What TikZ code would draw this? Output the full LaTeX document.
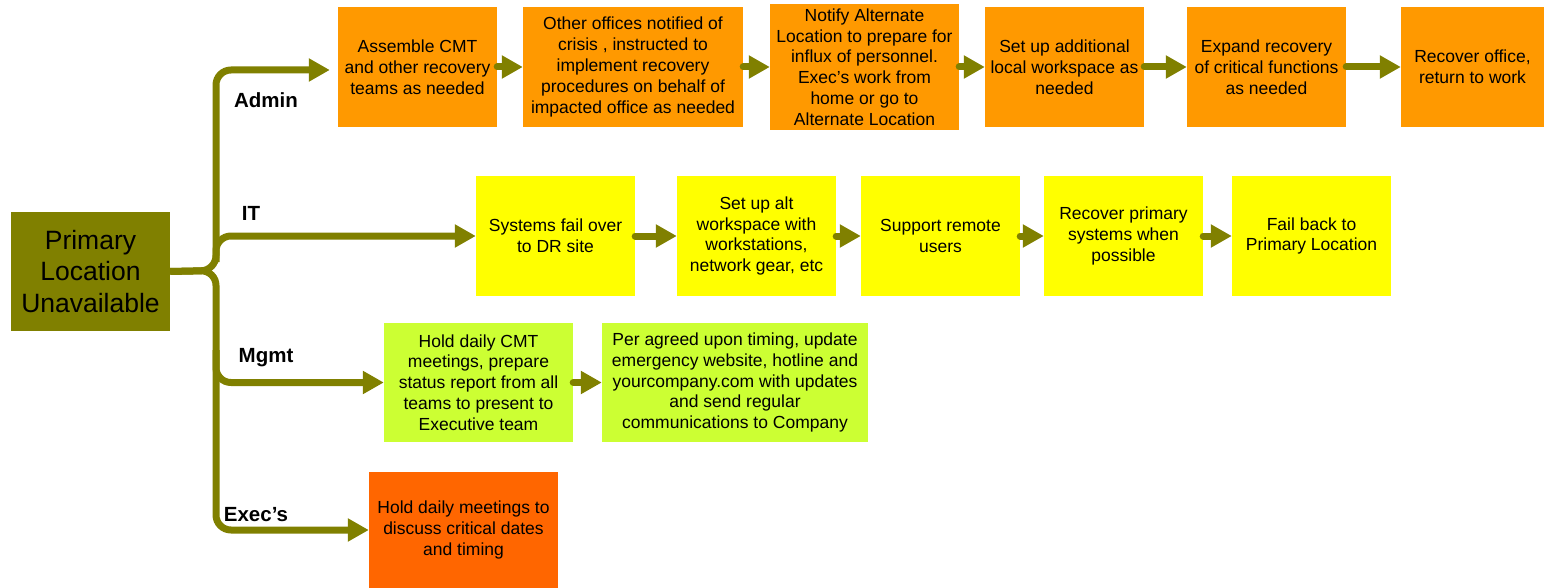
\documentclass[tikz,border=0pt]{standalone}
\usepackage{fontspec}
\setmainfont{Liberation Sans}
\usetikzlibrary{arrows.meta}
\definecolor{olivec}{HTML}{808000}
\definecolor{orangec}{HTML}{FF9900}
\definecolor{yellowc}{HTML}{FFFF00}
\definecolor{limec}{HTML}{CCFF33}
\definecolor{redorange}{HTML}{FF6600}
\begin{document}
\begin{tikzpicture}[x=1pt,y=-1pt,
  box/.style={inner sep=0pt, align=center, font=\fontsize{17.5}{20.8}\selectfont},
  adminbox/.style={box, fill=orangec},
  itbox/.style={box, fill=yellowc, minimum width=159pt, minimum height=120pt},
  mgmtbox/.style={box, fill=limec, minimum height=119pt},
  execbox/.style={box, fill=redorange},
  conn/.style={draw=olivec, line width=7pt, line cap=round, -{Triangle[length=21pt,width=22pt]}},
  branch/.style={conn, line cap=butt, rounded corners=15pt},
  lbl/.style={font=\bfseries\fontsize{20.5}{24}\selectfont, inner sep=0pt}]
\useasboundingbox (0,0) rectangle (1544,588);

% main node
\node[fill=olivec, minimum width=159pt, minimum height=119pt, align=center, inner sep=0pt,
      font=\fontsize{26.5}{31.5}\selectfont] (p) at (90.5,271.5) {Primary\\Location\\Unavailable};

% Admin row
\node[adminbox, minimum width=159pt, minimum height=120pt] (a1) at (417.5,67) {Assemble CMT\\and other recovery\\teams as needed};
\node[adminbox, minimum width=220pt, minimum height=120pt] (a2) at (633,67) {Other offices notified of\\crisis , instructed to\\implement recovery\\procedures on behalf of\\impacted office as needed};
\node[adminbox, minimum width=189pt, minimum height=126pt] (a3) at (864.5,67) {Notify Alternate\\Location to prepare for\\influx of personnel.\\Exec’s work from\\home or go to\\Alternate Location};
\node[adminbox, minimum width=159pt, minimum height=120pt] (a4) at (1064.5,67) {Set up additional\\local workspace as\\needed};
\node[adminbox, minimum width=159pt, minimum height=120pt] (a5) at (1266.5,67) {Expand recovery\\of critical functions\\as needed};
\node[adminbox, minimum width=143pt, minimum height=120pt] (a6) at (1472.5,67) {Recover office,\\return to work};

% IT row
\node[itbox] (i1) at (555.5,236) {Systems fail over\\to DR site};
\node[itbox] (i2) at (756.5,236) {Set up alt\\workspace with\\workstations,\\network gear, etc};
\node[itbox] (i3) at (940.5,236) {Support remote\\users};
\node[itbox] (i4) at (1123.5,236) {Recover primary\\systems when\\possible};
\node[itbox] (i5) at (1311.5,236) {Fail back to\\Primary Location};

% Mgmt row
\node[mgmtbox, minimum width=189pt] (m1) at (478.5,382.5) {Hold daily CMT\\meetings, prepare\\status report from all\\teams to present to\\Executive team};
\node[mgmtbox, minimum width=266pt] (m2) at (735,382.5) {Per agreed upon timing, update\\emergency website, hotline and\\yourcompany.com with updates\\and send regular\\communications to Company};

% Exec row
\node[execbox, minimum width=189pt, minimum height=116pt] (e1) at (463.5,530) {Hold daily meetings to\\discuss critical dates\\and timing};

% branch labels
\node[lbl] (ladmin) at (266,100) {Admin};
\node[lbl] (lit) at (251,213) {IT};
\node[lbl] (lmgmt) at (266,358) {Mgmt};
\node[lbl] (lexec) at (256,515) {Exec’s};

% branch connectors
\coordinate (hub) at (216,270.5);
\draw[branch] (p.east) -- (hub) -- (216,70) -- ([xshift=-8pt,yshift=-3pt]a1.west);
\draw[branch] (p.east) -- (hub) -- (216,530) -- (e1.west);
\draw[branch] (216,262) -- (216,236) -- (i1.west);
\draw[branch] (216,350) -- (216,382.5) -- (m1.west);

% sequence connectors
\draw[conn] (a1.east) -- (a2.west);
\draw[conn] (a2.east) -- (a3.west);
\draw[conn] (a3.east) -- (a4.west);
\draw[conn] (a4.east) -- (a5.west);
\draw[conn] (a5.east) -- (a6.west);
\draw[conn] (i1.east) -- (i2.west);
\draw[conn] (i2.east) -- (i3.west);
\draw[conn] (i3.east) -- (i4.west);
\draw[conn] (i4.east) -- (i5.west);
\draw[conn] (m1.east) -- (m2.west);
\end{tikzpicture}
\end{document}
